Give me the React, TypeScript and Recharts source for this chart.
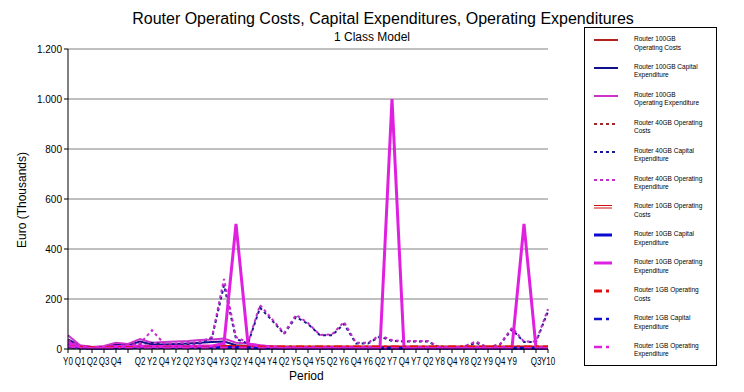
import React from 'react';
import { LineChart, Line, XAxis, YAxis, CartesianGrid } from 'recharts';

const periods = [
  'Y0', 'Q1', 'Q2', 'Q3', 'Q4', '', 'Q2', 'Y2', 'Q4', 'Y2', 'Q2',
  'Y3', 'Q4', 'Y3', 'Q2', 'Y4', 'Q4', 'Y4', 'Q2', 'Y5', 'Q4',
  'Y5', 'Q2', 'Y6', 'Q4', 'Y6', 'Q2', 'Y7', 'Q4', 'Y7', 'Q2',
  'Y8', 'Q4', 'Y8', 'Q2', 'Y9', 'Q4', 'Y9', '', 'Q3', 'Y10',
];

const yTicks = [0, 200, 400, 600, 800, 1000, 1200];

// Router 100GB
const opCost100 = [22, 8, 5, 5, 8, 8, 10, 10, 10, 10, 12, 12, 12, 10, 10, 8, 5, 4, 3, 3, 3, 3, 3, 3, 3, 3, 3, 3, 3, 3, 3, 3, 3, 3, 3, 3, 3, 3, 3, 3, 3];
const capex100 = [38, 12, 8, 8, 18, 15, 30, 18, 18, 20, 22, 25, 28, 30, 15, 12, 8, 5, 3, 2, 2, 2, 2, 2, 2, 2, 2, 2, 2, 2, 2, 2, 2, 2, 2, 2, 2, 2, 2, 2, 2];
const opex100 = [55, 15, 8, 12, 25, 20, 40, 25, 28, 30, 32, 36, 38, 42, 25, 22, 15, 10, 6, 5, 4, 4, 4, 4, 4, 4, 4, 4, 4, 4, 4, 4, 4, 4, 4, 4, 4, 4, 4, 4, 4];

// Router 40GB
const opCost40 = [15, 6, 4, 4, 6, 6, 8, 8, 8, 8, 8, 8, 8, 15, 8, 5, 10, 8, 6, 8, 7, 5, 5, 7, 4, 4, 5, 4, 4, 4, 4, 3, 3, 3, 4, 3, 3, 6, 4, 4, 10];
const capex40 = [30, 10, 5, 5, 10, 12, 20, 25, 18, 18, 20, 22, 45, 255, 40, 22, 165, 115, 60, 128, 100, 55, 55, 100, 22, 22, 50, 32, 30, 30, 30, 5, 5, 8, 25, 5, 18, 78, 28, 28, 150];
const opex40 = [35, 12, 6, 6, 12, 15, 22, 75, 22, 22, 25, 28, 48, 280, 48, 25, 176, 120, 64, 136, 104, 56, 58, 108, 25, 25, 55, 35, 32, 32, 32, 6, 6, 10, 30, 6, 20, 85, 30, 30, 160];

// Router 10GB
const opCost10 = [12, 8, 6, 6, 8, 8, 10, 10, 10, 10, 10, 10, 10, 10, 10, 10, 8, 8, 8, 8, 8, 8, 8, 8, 8, 8, 8, 8, 8, 8, 8, 8, 8, 8, 8, 8, 8, 8, 8, 8, 8];
const capex10 = [20, 5, 3, 3, 5, 5, 8, 6, 6, 6, 6, 6, 6, 6, 6, 5, 4, 4, 3, 3, 3, 3, 3, 3, 3, 3, 3, 3, 3, 3, 3, 3, 3, 3, 3, 3, 3, 3, 3, 3, 3];
const opex10 = [25, 8, 6, 6, 10, 10, 12, 10, 10, 10, 10, 12, 12, 22, 500, 20, 12, 8, 5, 5, 5, 5, 5, 5, 5, 5, 5, 1000, 5, 5, 5, 5, 5, 5, 5, 5, 5, 5, 500, 5, 5];

// Router 1GB
const opCost1 = [10, 6, 5, 5, 6, 6, 7, 7, 7, 7, 7, 7, 7, 7, 7, 7, 8, 8, 8, 8, 8, 8, 8, 8, 8, 8, 8, 8, 8, 8, 8, 8, 8, 8, 8, 8, 8, 8, 8, 8, 8];
const capex1 = [8, 3, 2, 2, 3, 3, 4, 4, 4, 4, 4, 4, 4, 4, 4, 3, 3, 3, 2, 2, 2, 2, 2, 2, 2, 2, 2, 2, 2, 2, 2, 2, 2, 2, 2, 2, 2, 2, 2, 2, 2];
const opex1 = [12, 4, 3, 3, 4, 4, 5, 5, 5, 5, 5, 5, 5, 5, 5, 4, 4, 4, 3, 3, 3, 3, 3, 3, 3, 3, 3, 3, 3, 3, 3, 3, 3, 3, 3, 3, 3, 3, 3, 3, 3];

const series = [
  { key: 'opCost100', name: 'Router 100GB Operating Costs', values: opCost100, color: '#b22020', width: 2, dash: undefined },
  { key: 'capex100', name: 'Router 100GB Capital Expenditure', values: capex100, color: '#10108a', width: 2, dash: undefined },
  { key: 'opex100', name: 'Router 100GB Operating Expenditure', values: opex100, color: '#cc33cc', width: 2, dash: undefined },
  { key: 'opCost40', name: 'Router 40GB Operating Costs', values: opCost40, color: '#a02828', width: 2, dash: '3 3' },
  { key: 'capex40', name: 'Router 40GB Capital Expenditure', values: capex40, color: '#1a1a90', width: 2, dash: '3 3' },
  { key: 'opex40', name: 'Router 40GB Operating Expenditure', values: opex40, color: '#c030c8', width: 2, dash: '3 3' },
  { key: 'opCost10', name: 'Router 10GB Operating Costs', values: opCost10, color: '#cc1010', width: 3, dash: undefined, double: true },
  { key: 'capex10', name: 'Router 10GB Capital Expenditure', values: capex10, color: '#0a0ad0', width: 3, dash: undefined },
  { key: 'opex10', name: 'Router 10GB Operating Expenditure', values: opex10, color: '#e020e0', width: 3, dash: undefined },
  { key: 'opCost1', name: 'Router 1GB Operating Costs', values: opCost1, color: '#e01010', width: 3, dash: '8 4 3 4' },
  { key: 'capex1', name: 'Router 1GB Capital Expenditure', values: capex1, color: '#1010cc', width: 2.5, dash: '8 4 3 4' },
  { key: 'opex1', name: 'Router 1GB Operating Expenditure', values: opex1, color: '#dd22dd', width: 2.5, dash: '8 4 3 4' },
];

const data = periods.map((p, i) => {
  const row: Record<string, string | number> = { period: p };
  series.forEach((s) => {
    row[s.key] = s.values[i];
  });
  return row;
});

const font = '"Liberation Sans", Arial, sans-serif';

const fmt = (v: number) => (v >= 1000 ? `${Math.floor(v / 1000)}.${String(v % 1000).padStart(3, '0')}` : String(v));

// squeeze the period labels a bit, the original uses a condensed face
const PeriodTick = (props: any) => {
  const { x, y, payload } = props;
  return (
    <g transform={`translate(${x},${y})`}>
      <text transform="scale(0.8,1)" textAnchor="middle" dy={10} fontSize={10} fill="#000" fontFamily={font}>
        {payload.value}
      </text>
    </g>
  );
};

const LegendSample = ({ s }: { s: (typeof series)[number] }) => {
  const w = s.dash === '8 4 3 4' || s.double || s.key === 'capex10' || s.key === 'opex10' ? 18 : 24;
  return (
    <svg width={26} height={8} style={{ position: 'absolute', left: 9, top: 1 }}>
      {s.double ? (
        <>
          <line x1={0} y1={2.5} x2={18} y2={2.5} stroke={s.color} strokeWidth={1} />
          <line x1={0} y1={5} x2={18} y2={5} stroke={s.color} strokeWidth={1} />
        </>
      ) : (
        <line x1={0} y1={4} x2={w} y2={4} stroke={s.color} strokeWidth={s.width} strokeDasharray={s.dash} />
      )}
    </svg>
  );
};

const App: React.FC = () => {
  return (
    <div style={{ position: 'absolute', left: 0, top: 0, width: 744, height: 392, background: '#fff', fontFamily: font }}>
      <div style={{ position: 'absolute', left: 0, width: 766, top: 10, textAlign: 'center', fontSize: 16, color: '#000' }}>
        Router Operating Costs, Capital Expenditures, Operating Expenditures
      </div>
      <div style={{ position: 'absolute', left: 0, width: 744, top: 30, textAlign: 'center', fontSize: 12, color: '#000' }}>
        1 Class Model
      </div>
      <div
        style={{
          position: 'absolute',
          left: 22,
          top: 200,
          fontSize: 12,
          transform: 'translate(-50%, -50%) rotate(-90deg)',
          whiteSpace: 'nowrap',
        }}
      >
        Euro (Thousands)
      </div>
      <div style={{ position: 'absolute', left: 289, top: 369, fontSize: 12 }}>Period</div>

      <div style={{ position: 'absolute', left: 0, top: 0 }}>
        <LineChart width={744} height={392} data={data} margin={{ top: 49, right: 196, bottom: 21, left: 28 }}>
          <CartesianGrid vertical={false} stroke="#808080" strokeWidth={1} />
          <XAxis
            dataKey="period"
            interval={0}
            axisLine={{ stroke: '#000' }}
            tickLine={{ stroke: '#000' }}
            tickSize={4}
            height={22}
            tick={<PeriodTick />}
          />
          <YAxis
            domain={[0, 1200]}
            ticks={yTicks}
            width={40}
            axisLine={{ stroke: '#000' }}
            tickLine={{ stroke: '#000' }}
            tickSize={4}
            tickFormatter={fmt}
            tick={{ fontSize: 10, fill: '#000', fontFamily: font }}
          />
          {series.map((s) => (
            <Line
              key={s.key}
              dataKey={s.key}
              name={s.name}
              type="linear"
              stroke={s.color}
              strokeWidth={s.width}
              strokeDasharray={s.dash}
              dot={false}
              isAnimationActive={false}
            />
          ))}
        </LineChart>
      </div>

      <div
        style={{
          position: 'absolute',
          left: 584,
          top: 27,
          width: 131,
          height: 337,
          border: '1.5px solid #000',
          background: '#fff',
        }}
      >
        {series.map((s, i) => (
          <div key={s.key} style={{ position: 'absolute', left: 0, top: 7 + i * 27.9, width: 130, height: 20 }}>
            <LegendSample s={s} />
            <div
              style={{
                position: 'absolute',
                left: 49,
                top: 0,
                width: 70,
                fontSize: 6.5,
                lineHeight: '8.5px',
                color: '#000',
              }}
            >
              {s.name}
            </div>
          </div>
        ))}
      </div>
    </div>
  );
};

export default App;
